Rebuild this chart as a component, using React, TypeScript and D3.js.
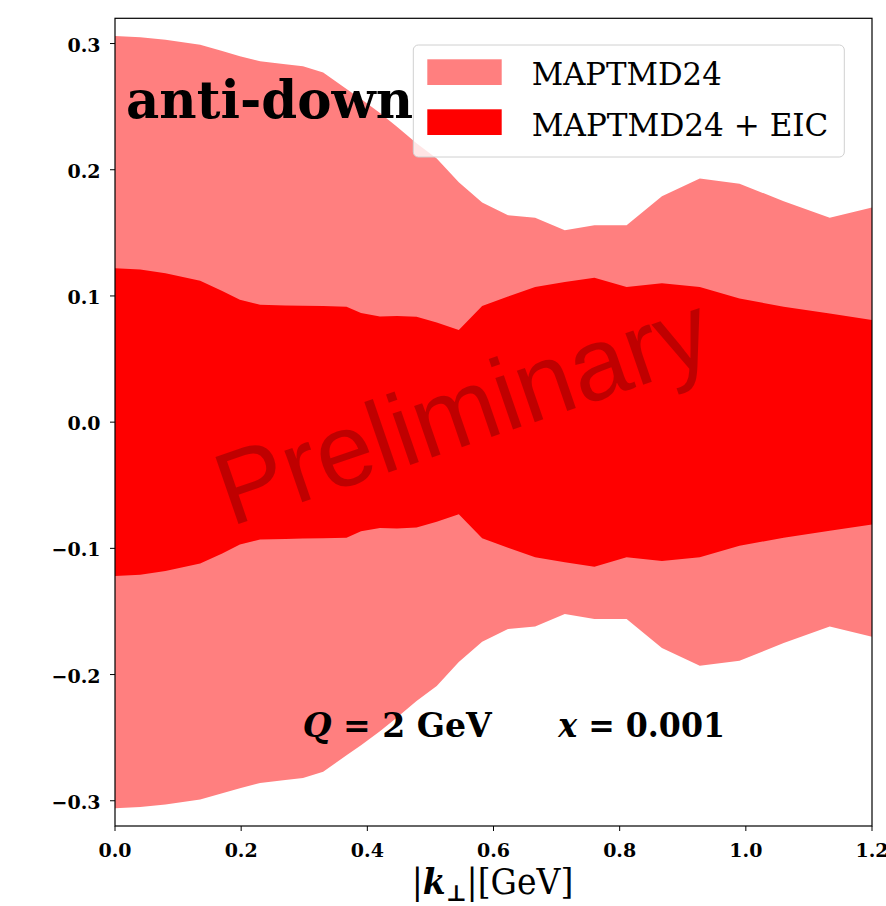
import React from "react";
import * as d3 from "d3";

// k_perp grid (GeV)
const kValues = [0, 0.04, 0.08, 0.135, 0.17, 0.198, 0.23, 0.27, 0.298, 0.33, 0.367, 0.39, 0.42, 0.447, 0.478, 0.51, 0.545, 0.582, 0.623, 0.666, 0.713, 0.76, 0.811, 0.867, 0.927, 0.99, 1.06, 1.133, 1.2];
// half-width of MAPTMD24 band
const outerHalf = [0.306, 0.305, 0.303, 0.299, 0.294, 0.29, 0.286, 0.2835, 0.282, 0.277, 0.264, 0.256, 0.245, 0.234, 0.221, 0.209, 0.19, 0.174, 0.164, 0.162, 0.152, 0.156, 0.156, 0.179, 0.193, 0.189, 0.175, 0.162, 0.17];
// half-width of MAPTMD24 + EIC band
const innerHalf = [0.122, 0.121, 0.118, 0.112, 0.104, 0.097, 0.093, 0.0925, 0.0922, 0.092, 0.0915, 0.0865, 0.0838, 0.0842, 0.0835, 0.079, 0.073, 0.092, 0.0995, 0.107, 0.111, 0.1145, 0.107, 0.11, 0.107, 0.098, 0.0915, 0.086, 0.081];

const xTicks = [0, 0.2, 0.4, 0.6, 0.8, 1.0, 1.2];
const yTicks = [-0.3, -0.2, -0.1, 0.0, 0.1, 0.2, 0.3];
const seriesLabels = ["MAPTMD24", "MAPTMD24 + EIC"];
const seriesColors = ["#ff7f7f", "#ff0000"];

const W = 886;
const H = 906;
const L = 115, R = 872, T = 18.3, B = 826;

export default function App() {
  const x = d3.scaleLinear().domain([0, 1.2]).range([L, R]);
  const y = d3.scaleLinear().domain([-0.32, 0.32]).range([B, T]);

  const pts = kValues.map((k, i) => ({ k, o: outerHalf[i], n: innerHalf[i] }));
  const outerArea = d3.area<any>().x(d => x(d.k)).y0(d => y(-d.o)).y1(d => y(d.o))(pts) || "";
  const innerArea = d3.area<any>().x(d => x(d.k)).y0(d => y(-d.n)).y1(d => y(d.n))(pts) || "";

  const fmt = d3.format(".1f");
  const serif = "'DejaVu Serif', serif";

  return (
    <svg width={W} height={H} style={{ position: "absolute", left: 0, top: 0, background: "#fff" }}>
      <defs>
        <clipPath id="plotclip">
          <rect x={L} y={T} width={R - L} height={B - T} />
        </clipPath>
      </defs>
      <g clipPath="url(#plotclip)">
        <path d={outerArea} fill={seriesColors[0]} />
        <path d={innerArea} fill={seriesColors[1]} />
        <text
          transform="translate(474,443) rotate(-19)"
          textAnchor="middle"
          fontFamily="'Liberation Sans', Arial, sans-serif"
          fontSize={103}
          fill="#000"
          fillOpacity={0.25}
        >
          Preliminary
        </text>
      </g>

      {/* frame */}
      <rect x={L} y={T} width={R - L} height={B - T} fill="none" stroke="#000" strokeWidth={1.2} />

      {/* x ticks */}
      {xTicks.map(t => (
        <g key={"x" + t}>
          <line x1={x(t)} x2={x(t)} y1={B} y2={B + 5} stroke="#000" strokeWidth={1} />
          <text x={x(t)} y={856.5} textAnchor="middle" fontFamily={serif} fontWeight="bold" fontSize={19}>
            {fmt(t)}
          </text>
        </g>
      ))}
      {/* y ticks */}
      {yTicks.map(t => (
        <g key={"y" + t}>
          <line x1={L - 5} x2={L} y1={y(t)} y2={y(t)} stroke="#000" strokeWidth={1} />
          <text x={100.5} y={y(t) + 8} textAnchor="end" fontFamily={serif} fontWeight="bold" fontSize={19}>
            {fmt(t)}
          </text>
        </g>
      ))}

      {/* x label */}
      <text x={411.7} y={894} fontFamily={serif} fontSize={35} textLength={161.6} lengthAdjust="spacingAndGlyphs">
        <tspan fontFamily={serif}>|</tspan>
        <tspan fontFamily={serif} fontWeight="bold" fontStyle="italic">k</tspan>
        <tspan fontFamily={serif} fontSize={23} dy={7} fontWeight="bold">⊥</tspan>
        <tspan fontFamily={serif} dy={-7}>|[GeV]</tspan>
      </text>

      {/* flavour label */}
      <text x={126} y={118} fontFamily={serif} fontWeight="bold" fontSize={52} textLength={287} lengthAdjust="spacingAndGlyphs">
        anti-down
      </text>

      {/* kinematics */}
      <text x={302.7} y={737.3} fontFamily={serif} fontWeight="bold" fontSize={33} textLength={189} lengthAdjust="spacingAndGlyphs">
        <tspan fontStyle="italic">Q</tspan> = 2 GeV
      </text>
      <text x={558.3} y={737.3} fontFamily={serif} fontWeight="bold" fontSize={33} textLength={166.7} lengthAdjust="spacingAndGlyphs">
        <tspan fontStyle="italic">x</tspan> = 0.001
      </text>

      {/* legend */}
      <rect x={413.3} y={45} width={431} height={112} rx={5} fill="#fff" fillOpacity={0.8} stroke="#d0d0d0" strokeWidth={1} />
      {seriesLabels.map((s, i) => (
        <g key={s}>
          <rect x={427.3} y={59.3 + i * 50} width={74.4} height={25.7} fill={seriesColors[i]} />
          <text
            x={531.7}
            y={85 + i * 51}
            fontFamily={serif}
            fontSize={32}
            textLength={i === 0 ? 190 : 296.7}
            lengthAdjust="spacingAndGlyphs"
          >
            {s}
          </text>
        </g>
      ))}
    </svg>
  );
}
